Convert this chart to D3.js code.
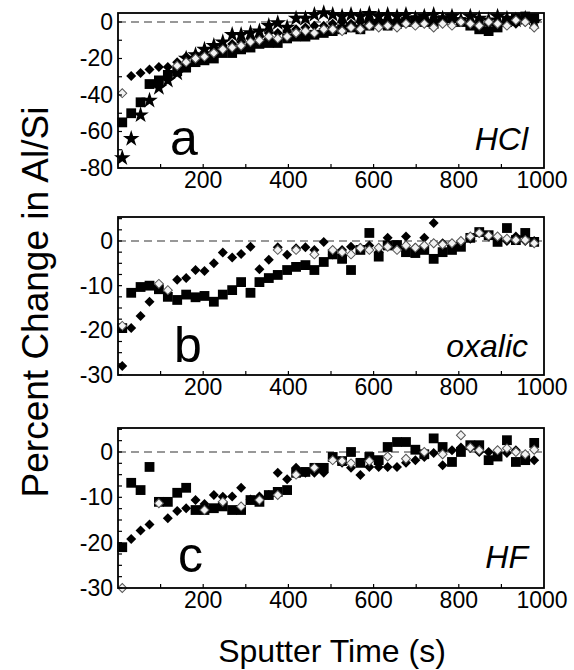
<!DOCTYPE html>
<html><head><meta charset="utf-8">
<script src="https://cdn.jsdelivr.net/npm/d3@7"></script>
<style>body{margin:0;background:#fff}svg{display:block}</style>
</head><body>
<svg id="chart" width="574" height="670"></svg>
<script>
// ---- data ----
const sputterTime = [10,31,53,74,96,117,139,160,182,203,225,246,268,289,311,332,354,375,397,418,440,461,483,504,526,547,569,590,612,633,655,676,698,719,741,762,784,805,827,848,870,891,913,934,956,977];

const hclSquares  = [-55,-50,-44,-34,-32,-29,-27,-25,-22,-21,-20,-17,-17,-15,-14,-12,-11.5,-11.5,-9,-8,-8,-7,-6,-5,-4,-3,-4,-2,-1,-2,-1,0,1,0,-1,1,2,0,-2,-4,-5,-3,0,2,3,2];
const hclStars    = [-74.5,-64,-51,-43,-36,-32,-28,-20,-18,-15,-13,-11,-7,-7,-6,-5,-2,-0.5,-3,2,2,4,5,4,3,4,3,4.5,3,4,3,4,2,3,4,2,3,1,3,2,1,3,2,1,2,0];
const hclDiamonds = [null,-29.6,-28,-26,-24.6,-24.6,-22,-19,-18,-16.5,-14,-13,-12,-11,-9,-8,-6,-6,-5,-4,-3,-2,-2,-1,0,-1,0,1,0,1,1,0,1,0,1,0,1,1,0,1,-1,0,1,-1,0,1];
const hclHollow   = [-39,null,null,null,null,null,-24,-22,-20,-19,-17,-15,-14,-13,-11,-10,-8,-9,-8,-6,-5,-6,-4,-4,-5,-3,-4,-2,-3,-2,-3,-1,-2,-1,-3,-1,-2,0,-1,-2,0,-1,-2,1,0,-3];

const oxalicSquares  = [-19.5,-11.6,-10.3,-10,-10.8,-12.5,-13.2,-12,-12.6,-12.3,-13.6,-12,-11,-9.2,-11.6,-9.2,-8.3,-7.6,-6.5,-5.8,-5.4,-6.5,-4.7,-3,-4,-6.5,-2,1.8,-3.5,-1,-0.9,-2.5,-2.7,-2,-4,-2.5,-2,-1.3,0.7,2,1.3,-0.2,2.9,0.2,1.8,-0.2];
const oxalicDiamonds = [-28,-19.5,-16.8,-13.6,null,null,-8.7,-8.3,-6.5,-6.7,-5,-2.6,-3.7,-2.9,-1.3,-6.3,-4.2,-1.4,-3.1,-1.6,-1.4,-2,-0.2,-3,-2,-1.3,-1.5,-1,-2.5,0.7,-1,1,-1.5,0.7,4,-0.5,-1,-0.5,0.5,1.8,1,0.5,0,1,0,0];
const oxalicHollow   = [-19,null,null,null,-9.6,-11,null,null,null,null,null,null,null,null,null,null,null,-2,null,-2,null,-3,null,-2,-2.5,-3,-1.6,-2,-1.5,-1.3,-2,-1,-1.5,-1,-0.5,-0.8,-0.5,0,1,1.8,1.2,1,0.5,0.2,0.2,-0.5];

const hfSquares  = [-21,-6.8,-8.4,-3.3,-11,-11,-9,-7.9,-12.8,-12.8,-12.4,-12,-12.8,-12.8,-10.6,-11,-9.5,-8.8,-8.4,-4.6,-4.4,-3.5,-3.5,-1.1,-2,0,-2.4,-1.1,-1.8,1.1,2.2,2.2,0.5,-0.5,3,1.1,-2.2,0,1.5,1.5,-1.8,-1,2.6,-2.2,-1.8,2];
const hfDiamonds = [null,-19.2,-17.3,-16,null,-14.6,-13,-12.4,-10.6,-11.5,-9.5,-9.9,-9.8,-7.9,-10.5,-9.8,-9.5,-4.6,-6,-3.5,-4.6,-4.6,-4.6,-1.3,-2.4,-3.5,-5.1,-3.3,-3.3,-3.3,-3.3,-2.4,-1.8,-1.1,-0.2,-2.9,0.4,1,0.9,0,0,-0.2,-0.2,0.4,-1.3,-1.8];
const hfHollow   = [-30,null,null,null,-11.3,null,null,null,null,-12.8,null,-11,null,-12,null,-10.6,null,-9.5,null,-5,null,-3.5,null,-1.8,-2,-2.5,null,-2,null,-1,null,-1.5,null,0,null,-0.5,null,3.7,1,0.4,null,0.4,0.8,0,-0.5,0.5];

const panelLetters = ["a","b","c"];
const panelAcids   = ["HCl","oxalic","HF"];
const xTickValues  = [200,400,600,800,1000];
const yTicksHcl    = [0,-20,-40,-60,-80];
const yTicksOther  = [0,-10,-20,-30];
const yTitle = "Percent Change in Al/Si";
const xTitle = "Sputter Time (s)";

// ---- layout ----
const svg = d3.select("#chart");
const FONT = "'Liberation Sans', Arial, Helvetica, sans-serif";
const left = 118, right = 544;
const panels = [
  {top: 13,  bottom: 168, dom: [-80, 4.93], ticks: yTicksHcl, minor: 10,
   series: {squares: hclSquares, stars: hclStars, diamonds: hclDiamonds, hollow: hclHollow}},
  {top: 217, bottom: 375, dom: [-30, 5.37], ticks: yTicksOther, minor: 2.5,
   series: {squares: oxalicSquares, diamonds: oxalicDiamonds, hollow: oxalicHollow}},
  {top: 428, bottom: 588, dom: [-30, 5.29], ticks: yTicksOther, minor: 2.5,
   series: {squares: hfSquares, diamonds: hfDiamonds, hollow: hfHollow}}
];

const x = d3.scaleLinear().domain([0, 1000]).range([left, right]);
const sq = d3.symbol().type(d3.symbolSquare);
const star = d3.symbol().type(d3.symbolStar);

panels.forEach((p, i) => {
  const y = d3.scaleLinear().domain(p.dom).range([p.bottom, p.top]);
  const g = svg.append("g");

  // zero dashed line
  g.append("line").attr("x1", left).attr("x2", right)
    .attr("y1", y(0)).attr("y2", y(0))
    .attr("stroke", "#333").attr("stroke-width", 1.2).attr("stroke-dasharray", "8,5");

  const pts = arr => sputterTime.map((t, k) => ({t, v: arr[k]})).filter(d => d.v != null);

  // squares
  g.append("g").selectAll("path").data(pts(p.series.squares)).join("path")
    .attr("d", sq.size(96)())
    .attr("transform", d => `translate(${x(d.t)},${y(d.v)})`)
    .attr("fill", "#000");
  // stars
  if (p.series.stars) {
    g.append("g").selectAll("path").data(pts(p.series.stars)).join("path")
      .attr("d", star.size(85)())
      .attr("transform", d => `translate(${x(d.t)},${y(d.v)})`)
      .attr("fill", "#000");
  }
  // filled diamonds
  g.append("g").selectAll("path").data(pts(p.series.diamonds)).join("path")
    .attr("d", sq.size(50)())
    .attr("transform", d => `translate(${x(d.t)},${y(d.v)}) rotate(45)`)
    .attr("fill", "#000");
  // hollow diamonds
  g.append("g").selectAll("path").data(pts(p.series.hollow)).join("path")
    .attr("d", sq.size(40)())
    .attr("transform", d => `translate(${x(d.t)},${y(d.v)}) rotate(45)`)
    .attr("fill", "#f2f2f2").attr("stroke", "#555").attr("stroke-width", 1);

  // frame
  g.append("rect").attr("x", left).attr("y", p.top)
    .attr("width", right - left).attr("height", p.bottom - p.top)
    .attr("fill", "none").attr("stroke", "#000").attr("stroke-width", 1.8);

  // inward ticks: left (minor) and bottom (every 100)
  const minorVals = d3.range(p.dom[0], p.dom[1] + 0.001, p.minor);
  g.append("g").selectAll("line").data(minorVals).join("line")
    .attr("x1", left).attr("x2", left + 4)
    .attr("y1", d => y(d)).attr("y2", d => y(d))
    .attr("stroke", "#000").attr("stroke-width", 1.2);
  g.append("g").selectAll("line").data(d3.range(100, 1000, 100)).join("line")
    .attr("x1", d => x(d)).attr("x2", d => x(d))
    .attr("y1", p.bottom).attr("y2", p.bottom - 4)
    .attr("stroke", "#000").attr("stroke-width", 1.2);

  // y tick labels
  g.append("g").selectAll("text").data(p.ticks).join("text")
    .attr("x", left - 5).attr("y", d => y(d) + 8)
    .attr("text-anchor", "end")
    .attr("font-family", FONT).attr("font-size", 23).attr("fill", "#000")
    .text(d => String(d));

  // x tick labels
  g.append("g").selectAll("text").data(xTickValues).join("text")
    .attr("x", d => x(d) + (d === 1000 ? -2 : 0)).attr("y", p.bottom + 20)
    .attr("text-anchor", "middle")
    .attr("font-family", FONT).attr("font-size", 23).attr("fill", "#000")
    .text(d => String(d));

  // panel letter
  g.append("text").attr("x", 170 + i * 4).attr("y", p.bottom - 13 - (i === 2 ? 3 : 0))
    .attr("font-family", FONT).attr("font-size", 50).attr("fill", "#000")
    .text(panelLetters[i]);

  // acid label
  g.append("text").attr("x", 528).attr("y", p.bottom - 18 - (i === 2 ? 2 : 0))
    .attr("text-anchor", "end")
    .attr("font-family", FONT).attr("font-size", 32).attr("font-style", "italic").attr("fill", "#000")
    .text(panelAcids[i]);
});

// axis titles
svg.append("text")
  .attr("transform", "translate(48,302) rotate(-90)")
  .attr("text-anchor", "middle")
  .attr("font-family", FONT).attr("font-size", 37).attr("fill", "#000")
  .text(yTitle);

svg.append("text")
  .attr("x", 332).attr("y", 662)
  .attr("text-anchor", "middle")
  .attr("font-family", FONT).attr("font-size", 32).attr("fill", "#000")
  .text(xTitle);
</script>
</body></html>
